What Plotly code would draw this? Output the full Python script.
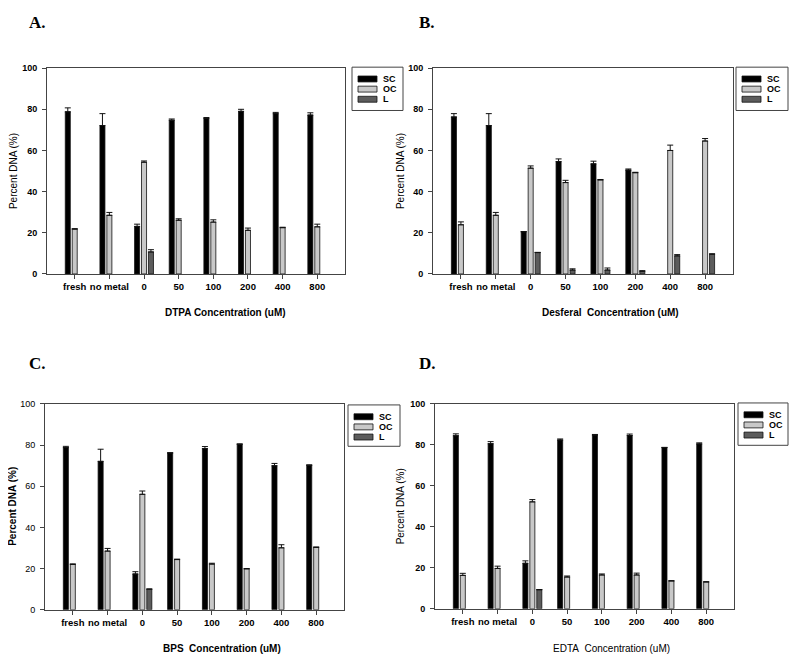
import plotly.graph_objects as go

# The page body adds an 8px margin, so the figure is 8px smaller and
# all reference pixel positions are shifted by that margin.
PAGE_W, PAGE_H = 800, 664
OFF = 8
W, H = PAGE_W - OFF, PAGE_H - OFF

categories = ["fresh", "no metal", "0", "50", "100", "200", "400", "800"]
series_names = ["SC", "OC", "L"]

# Panel A: DTPA
a_sc = [78.8, 72.1, 23.1, 74.7, 75.6, 79.0, 77.9, 77.2]
a_sc_err = [1.9, 5.8, 1.1, 0.6, 0.4, 1.0, 0.6, 1.1]
a_oc = [21.8, 28.5, 54.3, 26.1, 25.2, 21.2, 22.5, 22.9]
a_oc_err = [0.2, 1.4, 0.6, 0.7, 1.1, 1.1, 0.2, 1.3]
a_l = [None, None, 10.7, None, None, None, None, None]
a_l_err = [0, 0, 1.1, 0, 0, 0, 0, 0]

# Panel B: Desferal
b_sc = [76.3, 72.1, 20.5, 54.6, 53.5, 50.5, None, None]
b_sc_err = [1.6, 5.8, 0.1, 1.3, 1.3, 0.5, 0, 0]
b_oc = [23.9, 28.5, 51.4, 44.4, 45.7, 49.2, 60.0, 64.6]
b_oc_err = [1.4, 1.4, 1.1, 1.1, 0.2, 0.2, 2.6, 1.2]
b_l = [None, None, 10.4, 1.9, 1.9, 1.3, 8.8, 9.6]
b_l_err = [0, 0, 0.1, 0.6, 1.0, 0.3, 0.6, 0.2]

# Panel C: BPS
c_sc = [78.8, 72.1, 17.4, 76.2, 78.3, 80.4, 70.0, 70.2]
c_sc_err = [0.6, 5.9, 1.1, 0.1, 1.0, 0.2, 1.1, 0.2]
c_oc = [22.0, 28.5, 56.1, 24.4, 22.2, 19.9, 30.1, 30.3]
c_oc_err = [0.3, 1.3, 1.6, 0.2, 0.4, 0.1, 1.5, 0.2]
c_l = [None, None, 10.0, None, None, None, None, None]
c_l_err = [0, 0, 0.1, 0, 0, 0, 0, 0]

# Panel D: EDTA
d_sc = [84.5, 80.6, 22.2, 82.4, 84.8, 84.6, 78.7, 80.5]
d_sc_err = [0.9, 1.0, 1.2, 0.5, 0.3, 0.7, 0.1, 0.5]
d_oc = [16.3, 19.7, 52.2, 15.5, 16.5, 16.5, 13.6, 13.1]
d_oc_err = [1.0, 1.1, 1.1, 0.5, 0.5, 0.9, 0.1, 0.1]
d_l = [None, None, 9.3, None, None, None, None, None]
d_l_err = [0, 0, 0.1, 0, 0, 0, 0, 0]

panel_letters = ["A.", "B.", "C.", "D."]
x_titles = ["DTPA Concentration (uM)",
            "Desferal\u00a0 Concentration (uM)",
            "BPS\u00a0 Concentration (uM)",
            "EDTA\u00a0 Concentration (uM)"]
y_title = "Percent DNA (%)"
y_ticks = [0, 20, 40, 60, 80, 100]

panels = [
    ([a_sc, a_oc, a_l], [a_sc_err, a_oc_err, a_l_err]),
    ([b_sc, b_oc, b_l], [b_sc_err, b_oc_err, b_l_err]),
    ([c_sc, c_oc, c_l], [c_sc_err, c_oc_err, c_l_err]),
    ([d_sc, d_oc, d_l], [d_sc_err, d_oc_err, d_l_err]),
]

colors = ["#000000", "#c8c8c8", "#5c5c5c"]
FONT = "Liberation Sans, Arial, sans-serif"
SERIF = "Liberation Serif, Times New Roman, serif"

# layout boxes in page pixels: (left, top, right, bottom)
plot_boxes = [(47, 64, 345, 273), (433, 64, 733, 273),
              (45, 405, 344, 614), (435, 405, 734, 613)]
legend_boxes = [(352, 63, 403, 107), (736, 63, 788, 107),
                (348, 406, 400, 448), (738, 404, 788, 447)]
letter_pos = [(27, 18), (417, 18), (27, 364), (417, 364)]
xtitle_y = [312, 312, 653, 653]
ytitle_x = [13, 400, 13, 400]
ytick_weight = ["bold", "bold", "normal", "bold"]
xtitle_weight = ["bold", "bold", "bold", "normal"]
ytitle_weight = ["normal", "normal", "bold", "normal"]


def px(x):
    return (x - OFF) / W


def py(y):
    return 1 - (y - OFF) / H


fig = go.Figure()
layout = dict(
    width=W, height=H, margin=dict(l=0, r=0, t=0, b=0),
    paper_bgcolor="white", plot_bgcolor="white",
    barmode="group", bargap=0.4, bargroupgap=0.275,
    showlegend=False,
    font=dict(family=FONT, color="black"),
)
shapes = []
annotations = []

for k, (vals, errs) in enumerate(panels):
    xa = "x" if k == 0 else f"x{k+1}"
    ya = "y" if k == 0 else f"y{k+1}"
    for s in range(3):
        fig.add_trace(go.Bar(
            x=categories, y=vals[s], name=series_names[s],
            xaxis=xa, yaxis=ya,
            marker=dict(color=colors[s], line=dict(color="#111111", width=0.8)),
            error_y=dict(type="data", symmetric=False, array=errs[s],
                         arrayminus=[0] * len(categories),
                         color="#111111", thickness=1, width=3),
        ))
    l, t, r, b = plot_boxes[k]
    xkey = "xaxis" if k == 0 else f"xaxis{k+1}"
    ykey = "yaxis" if k == 0 else f"yaxis{k+1}"
    layout[xkey] = dict(
        domain=[px(l), px(r)], anchor=ya, type="category",
        range=[-0.8, len(categories) - 0.2],
        showline=True, mirror=True, linecolor="#444444", linewidth=1,
        ticks="outside", ticklen=4, tickcolor="#444444", showgrid=False,
        tickfont=dict(size=9.5, family=FONT, weight="bold", color="black"),
        fixedrange=True,
    )
    layout[ykey] = dict(
        domain=[py(b), py(t)], anchor=xa, range=[0, 100],
        tickvals=y_ticks,
        showline=True, mirror=True, linecolor="#444444", linewidth=1,
        ticks="outside", ticklen=4, tickcolor="#444444", showgrid=False,
        zeroline=False, ticklabelstandoff=3,
        tickfont=dict(size=9, family=FONT, weight=ytick_weight[k], color="black"),
        fixedrange=True,
    )
    # panel letter
    lx, ly = letter_pos[k]
    annotations.append(dict(
        xref="paper", yref="paper", x=px(lx), y=py(ly), xanchor="left",
        yanchor="middle", showarrow=False, text=panel_letters[k],
        font=dict(family=SERIF, size=17, weight="bold", color="black")))
    # x title centred over plot + legend
    lb = legend_boxes[k]
    annotations.append(dict(
        xref="paper", yref="paper", x=px((l + lb[2]) / 2), y=py(xtitle_y[k]),
        xanchor="center", yanchor="middle", showarrow=False, text=x_titles[k],
        font=dict(family=FONT, size=10, weight=xtitle_weight[k], color="black")))
    # y title
    annotations.append(dict(
        xref="paper", yref="paper", x=px(ytitle_x[k]), y=py((t + b) / 2),
        xanchor="center", yanchor="middle", showarrow=False, text=y_title,
        textangle=-90,
        font=dict(family=FONT, size=10, weight=ytitle_weight[k], color="black")))
    # legend box
    shapes.append(dict(type="rect", xref="paper", yref="paper",
                       x0=px(lb[0]), x1=px(lb[2]), y0=py(lb[3]), y1=py(lb[1]),
                       line=dict(color="#444444", width=1), fillcolor="white"))
    for s in range(3):
        cy = lb[1] + 12 + s * 10.3
        sx0 = lb[0] + 6
        shapes.append(dict(type="rect", xref="paper", yref="paper",
                           x0=px(sx0), x1=px(sx0 + 19), y0=py(cy + 3), y1=py(cy - 3),
                           line=dict(color="#111111", width=0.8), fillcolor=colors[s]))
        annotations.append(dict(
            xref="paper", yref="paper", x=px(sx0 + 23), y=py(cy),
            xanchor="left", yanchor="middle", showarrow=False,
            text=series_names[s],
            font=dict(family=FONT, size=9, weight="bold", color="black")))

layout["shapes"] = shapes
layout["annotations"] = annotations
fig.update_layout(**layout)
fig.write_html("out.html")
